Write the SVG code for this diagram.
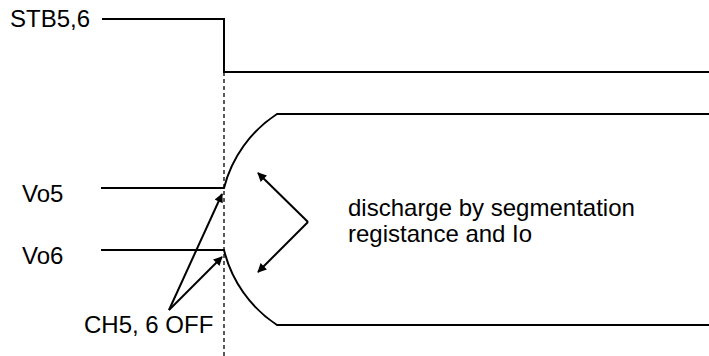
<svg xmlns="http://www.w3.org/2000/svg" width="709" height="356" viewBox="0 0 709 356">
<defs>
<style>
.w{fill:none;stroke:#000;stroke-width:2}
.a{fill:none;stroke:#000;stroke-width:2}
.d{fill:none;stroke:#000;stroke-width:1.3;stroke-dasharray:4,3}
text{font-family:"Liberation Sans",Arial,sans-serif;font-size:24px;fill:#000}
</style>
<marker id="ah" viewBox="0 0 10 10" refX="9" refY="5" markerWidth="10" markerHeight="9" orient="auto" markerUnits="userSpaceOnUse">
<path d="M0,0 L10,5 L0,10 z" fill="#000"/>
</marker>
</defs>
<rect width="709" height="356" fill="#fff"/>
<g id="stb">
<path class="w" d="M102,19 H224 V72 H709"/>
<text x="10" y="27">STB5,6</text>
</g>
<g id="vo5">
<path class="w" d="M101,188 H224 A125.3,125.3 0 0 1 277,114 H709"/>
<text x="22" y="202">Vo5</text>
</g>
<g id="vo6">
<path class="w" d="M101,250 H224 A125.3,125.3 0 0 0 277,325 H709"/>
<text x="22" y="264">Vo6</text>
</g>
<g id="labels">
<text x="84" y="333">CH5, 6 OFF</text>
<text x="348" y="216">discharge by segmentation</text>
<text x="348" y="242">registance and Io</text>
</g>
<g id="connectors">
<path class="d" d="M224,72 V356"/>
<path class="a" d="M169,310 L222,194" marker-end="url(#ah)"/>
<path class="a" d="M169,310 L222,257" marker-end="url(#ah)"/>
<path class="a" d="M308,222 L258,173" marker-end="url(#ah)"/>
<path class="a" d="M308,222 L258,272" marker-end="url(#ah)"/>
</g>
</svg>
